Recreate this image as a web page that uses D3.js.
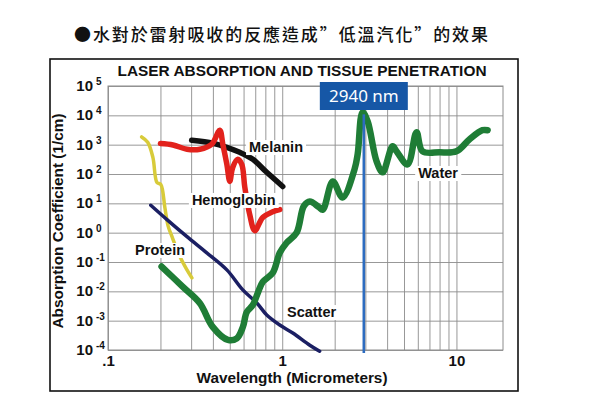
<!DOCTYPE html>
<html><head><meta charset="utf-8">
<script src="https://cdn.jsdelivr.net/npm/d3@7"></script>
<style>body{margin:0;background:#fff} svg{display:block}</style>
</head><body><svg id="c" width="600" height="420"></svg>
<script>
const pageTitle = "●水對於雷射吸收的反應造成”低溫汽化”的效果";
const chartTitle = "LASER ABSORPTION AND TISSUE PENETRATION";
const xTitle = "Wavelength (Micrometers)";
const yTitle = "Absorption Coefficient (1/cm)";
const xTickValues = [0.1, 1, 10];
const xTickLabels = [".1", "1", "10"];
const yTickExponents = [-4, -3, -2, -1, 0, 1, 2, 3, 4, 5];

const waterWl  = [0.203,0.269,0.336,0.400,0.488,0.549,0.594,0.626,0.678,0.724,0.773,0.883,0.968,1.06,1.21,1.33,1.44,1.62,1.71,1.95,2.22,2.60,2.71,2.89,3.09,3.48,3.77,4.30,4.53,5.24,5.90,6.38,8.0,10,11.9,14.1,15.1];
const waterAbs = [0.070,0.0142,0.0040,6.0e-4,2.2e-4,2.5e-4,6e-4,1.97e-3,3.4e-3,8.8e-3,0.021,0.043,0.206,0.455,1.0,8.0,11.5,7.5,6.1,56,15.8,144,469,12900,6300,270,114,880,594,213,2660,594,550,594,1530,3110,3110];

const melaninWl  = [0.302,0.400,0.481,0.570,0.678,0.815,1.007];
const melaninAbs = [1415,1117,815,550,316,114,37.6];

const hemoWl  = [0.200,0.236,0.284,0.337,0.394,0.438,0.456,0.481,0.500,0.520,0.556,0.586,0.610,0.651,0.696,0.773,0.883,0.968];
const hemoAbs = [1092,977,695,695,1032,3110,1032,213,56,168,316,213,34.8,4.1,1.17,3.27,5.2,6.1];

const proteinWl  = [0.156,0.169,0.181,0.191,0.201,0.212,0.221,0.233,0.259,0.284,0.303];
const proteinAbs = [1837,1208,370,51.5,44,7.2,1.74,0.73,0.151,0.054,0.0288];

const scatterWl  = [0.176,0.218,0.284,0.369,0.481,0.594,0.715,0.815,0.968,1.15,1.44,1.64];
const scatterAbs = [8.6,2.79,0.73,0.206,0.054,0.0112,0.0040,1.56e-3,7.1e-4,3.8e-4,1.46e-4,9.1e-5];

const markerWl = 2.94;
const markerLabel = "2940 nm";

const svg = d3.select("#c");
const FONT = "'Liberation Sans', Arial, sans-serif";

svg.append("rect").attr("width",600).attr("height",420).attr("fill","#fff");

svg.append("text").attr("x",74).attr("y",41)
  .attr("font-family","'Noto Sans CJK TC', 'Noto Sans CJK SC', sans-serif")
  .attr("font-size",17).attr("font-weight",500).attr("fill","#111")
  .attr("textLength",414).attr("lengthAdjust","spacing")
  .text(pageTitle);

svg.append("rect").attr("x",50).attr("y",59).attr("width",468).attr("height",332)
  .attr("fill","#fff").attr("stroke","#111").attr("stroke-width",1.6);

svg.append("text").attr("x",302).attr("y",76).attr("text-anchor","middle")
  .attr("font-family",FONT).attr("font-weight","bold").attr("font-size",15)
  .attr("textLength",369).attr("lengthAdjust","spacingAndGlyphs").attr("fill","#111")
  .text(chartTitle);

const x = d3.scaleLog().domain([0.1, 18.5]).range([108, 503]);
const y = d3.scaleLog().domain([1e-4, 1e5]).range([350, 86]);
const yTicks = yTickExponents.map(e => Math.pow(10, e));

// grid
const gx = svg.append("g").attr("transform",`translate(0,${y.range()[0]})`)
  .call(d3.axisBottom(x).tickSize(-(y.range()[0]-y.range()[1])).tickFormat(""));
gx.select(".domain").remove();
gx.selectAll("line").attr("stroke","#8c8c8c").attr("stroke-width",0.9);

const gy = svg.append("g").attr("transform",`translate(${x.range()[0]},0)`)
  .call(d3.axisLeft(y).tickValues(yTicks).tickSize(-(x.range()[1]-x.range()[0])).tickFormat(""));
gy.select(".domain").remove();
gy.selectAll("line").attr("stroke","#8c8c8c").attr("stroke-width",0.9);

svg.append("rect").attr("x",x.range()[0]).attr("y",y.range()[1])
  .attr("width",x.range()[1]-x.range()[0]).attr("height",y.range()[0]-y.range()[1])
  .attr("fill","none").attr("stroke","#8c8c8c").attr("stroke-width",1);

// y tick labels
yTicks.forEach((v,i) => {
  svg.append("text").attr("x",93).attr("y",y(v)+5)
    .attr("text-anchor","end").attr("font-family",FONT).attr("font-weight","bold")
    .attr("font-size",15).attr("fill","#111").text("10");
  svg.append("text").attr("x",96).attr("y",y(v)-1)
    .attr("font-family",FONT).attr("font-weight","bold")
    .attr("font-size",10).attr("fill","#111").text(String(yTickExponents[i]));
});

// x tick labels
const xa = svg.append("g").attr("transform",`translate(0,${y.range()[0]})`)
  .call(d3.axisBottom(x).tickValues(xTickValues).tickSize(0)
    .tickFormat((d,i) => xTickLabels[i]));
xa.select(".domain").remove();
xa.selectAll("text").attr("y",16).attr("dy",0).attr("font-family",FONT)
  .attr("font-weight","bold").attr("font-size",15).attr("fill","#111");

// axis titles
svg.append("text").attr("x",292).attr("y",383).attr("text-anchor","middle")
  .attr("font-family",FONT).attr("font-weight","bold").attr("font-size",15)
  .attr("textLength",191).attr("lengthAdjust","spacingAndGlyphs").attr("fill","#111").text(xTitle);
svg.append("text").attr("transform","translate(63,221) rotate(-90)").attr("text-anchor","middle")
  .attr("font-family",FONT).attr("font-weight","bold").attr("font-size",15)
  .attr("textLength",215).attr("lengthAdjust","spacingAndGlyphs").attr("fill","#111").text(yTitle);

// curves
const line = d3.line().x(d => x(d[0])).y(d => y(d[1])).curve(d3.curveCatmullRom.alpha(0.5));
const series = [
  {wl:proteinWl, ab:proteinAbs, c:"#d8cb3a", w:3.5},
  {wl:scatterWl, ab:scatterAbs, c:"#1b1f63", w:3.5},
  {wl:melaninWl, ab:melaninAbs, c:"#111111", w:5.5},
  {wl:hemoWl, ab:hemoAbs, c:"#e2221c", w:5.5},
  {wl:waterWl, ab:waterAbs, c:"#1f7d36", w:6.5}
];
series.forEach(s => {
  svg.append("path").datum(s.wl.map((w,i) => [w, s.ab[i]]))
    .attr("d", line).attr("fill","none").attr("stroke",s.c)
    .attr("stroke-width",s.w).attr("stroke-linecap","round").attr("stroke-linejoin","round");
});

// series labels with white backgrounds (drawn over the curves)
const labels = [
  {t:"Melanin", wl:0.645, a:560},
  {t:"Hemoglobin", wl:0.303, a:8.8},
  {t:"Protein", wl:0.143, a:0.173},
  {t:"Scatter", wl:1.065, a:0.00133},
  {t:"Water", wl:6.03, a:73}
];
const lg = svg.append("g");
labels.forEach(l => {
  const bg = lg.append("rect").attr("fill","#fff");
  const tx = lg.append("text").attr("x",x(l.wl)).attr("y",y(l.a))
    .attr("font-family",FONT).attr("font-weight","bold").attr("font-size",14.5)
    .attr("fill","#111").text(l.t);
  const b = tx.node().getBBox();
  bg.attr("x",b.x-3).attr("y",b.y+1).attr("width",b.width+6).attr("height",b.height-1);
});

// marker
const mx = x(markerWl);
svg.append("line").attr("x1",mx).attr("x2",mx).attr("y1",y(1e4)-1).attr("y2",y.range()[0]+3)
  .attr("stroke","#2d6cc0").attr("stroke-width",2.6);
svg.append("rect").attr("x",mx-44).attr("y",82).attr("width",88).attr("height",28)
  .attr("fill","#1657a6");
svg.append("text").attr("x",mx).attr("y",102).attr("text-anchor","middle")
  .attr("font-family","'Noto Sans', 'Open Sans', sans-serif").attr("font-size",17)
  .attr("fill","#fff").text(markerLabel);
</script></body></html>
